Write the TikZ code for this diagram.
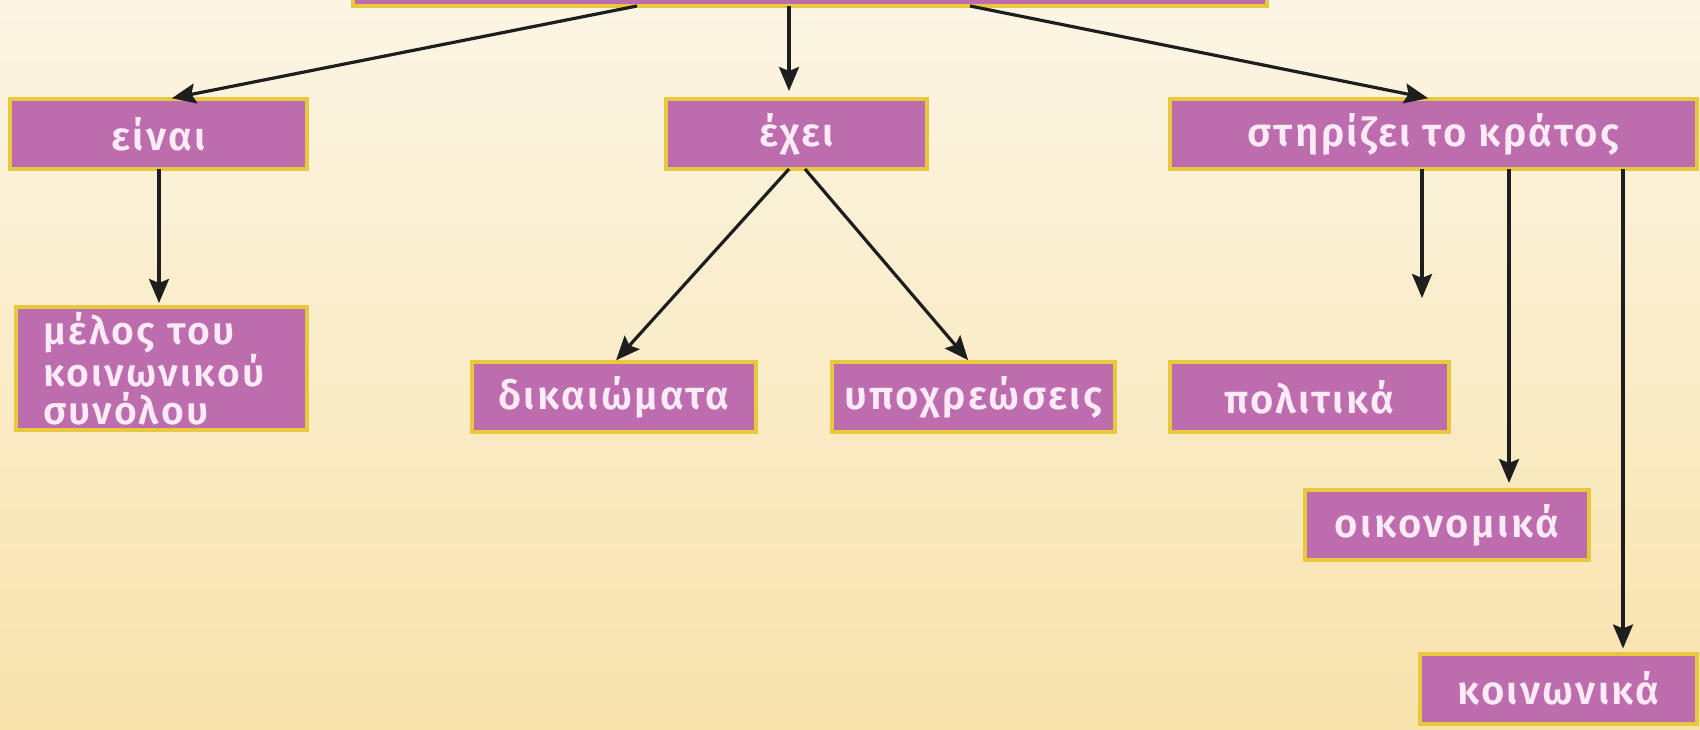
\documentclass[tikz,border=0pt]{standalone}
\usepackage{fontspec}
\setmainfont{Fira Sans}[BoldFont={Fira Sans SemiBold}, LetterSpace=6]
\usetikzlibrary{arrows.meta,calc}
\definecolor{bgtop}{HTML}{FBF5E4}
\definecolor{bgbot}{HTML}{F8E3AC}
\definecolor{boxfill}{HTML}{BD6DAE}
\definecolor{boxline}{HTML}{E8C83C}
\definecolor{boxtext}{HTML}{FCEAF6}
\definecolor{arrowcol}{HTML}{1E1E1E}
\tikzset{
  conbox/.style={draw=boxline, line width=4pt, fill=boxfill, text=boxtext,
    font=\fontsize{40}{40}\selectfont\bfseries, inner sep=0pt, outer sep=0pt,
    minimum height=70pt},
  arr/.style={draw=arrowcol, line width=3.2pt,
    -{Stealth[length=24pt,width=20pt,inset=4pt]}, shorten >=9pt}
}
\begin{document}
\begin{tikzpicture}[x=1pt,y=-1pt]
\clip (0,0) rectangle (1700,730);
\shade[top color=bgtop, bottom color=bgbot] (0,0) rectangle (1700,730);

\node[conbox, minimum width=914pt, minimum height=80pt] (top) at (810,-34) {};

\node[conbox, minimum width=297pt] (einai) at (158.5,134) {είναι};
\node[conbox, minimum width=261pt] (exei) at (796.5,134) {έχει};
\node[conbox, minimum width=527pt] (stir) at (1433.5,134) {στηρίζει το κράτος};

\node[conbox, minimum width=291pt, minimum height=123pt, align=left,
  text width=237pt, font=\fontsize{39}{38.5}\selectfont\bfseries] (melos) at (161.5,368.5)
  {μέλος του\\κοινωνικού\\συνόλου};
\node[conbox, minimum width=284pt] (dik) at (614,397) {δικαιώματα};
\node[conbox, minimum width=283pt] (ypo) at (973.5,397) {υποχρεώσεις};
\node[conbox, minimum width=279pt] (pol) at (1309.5,397) {πολιτικά};
\node[conbox, minimum width=284pt] (oik) at (1447,525) {οικονομικά};
\node[conbox, minimum width=277pt] (koin) at (1558.5,688.5) {κοινωνικά};

\coordinate (polend) at (1422,298);

\draw[arr] ([xshift=284pt]top.south west) -- ([xshift=153pt,yshift=-1pt]einai.north west);
\draw[arr] ([xshift=436pt]top.south west) -- ([xshift=123pt,yshift=-1pt]exei.north west);
\draw[arr] ([xshift=617pt]top.south west) -- ([xshift=267pt,yshift=-1pt]stir.north west);
\draw[arr] ([xshift=149pt]einai.south west) -- ([xshift=143pt,yshift=-5pt]melos.north west);
\draw[arr] ([xshift=123pt]exei.south west) -- ([xshift=138pt,yshift=-5pt]dik.north west);
\draw[arr] ([xshift=139pt]exei.south west) -- ([xshift=142pt,yshift=-5pt]ypo.north west);
\draw[arr, shorten >=0pt] ([xshift=252pt]stir.south west) -- (polend);
\draw[arr] ([xshift=339pt]stir.south west) -- ([xshift=204pt,yshift=-2pt]oik.north west);
\draw[arr] ([xshift=453pt]stir.south west) -- ([xshift=203pt,yshift=-4pt]koin.north west);
\end{tikzpicture}
\end{document}
